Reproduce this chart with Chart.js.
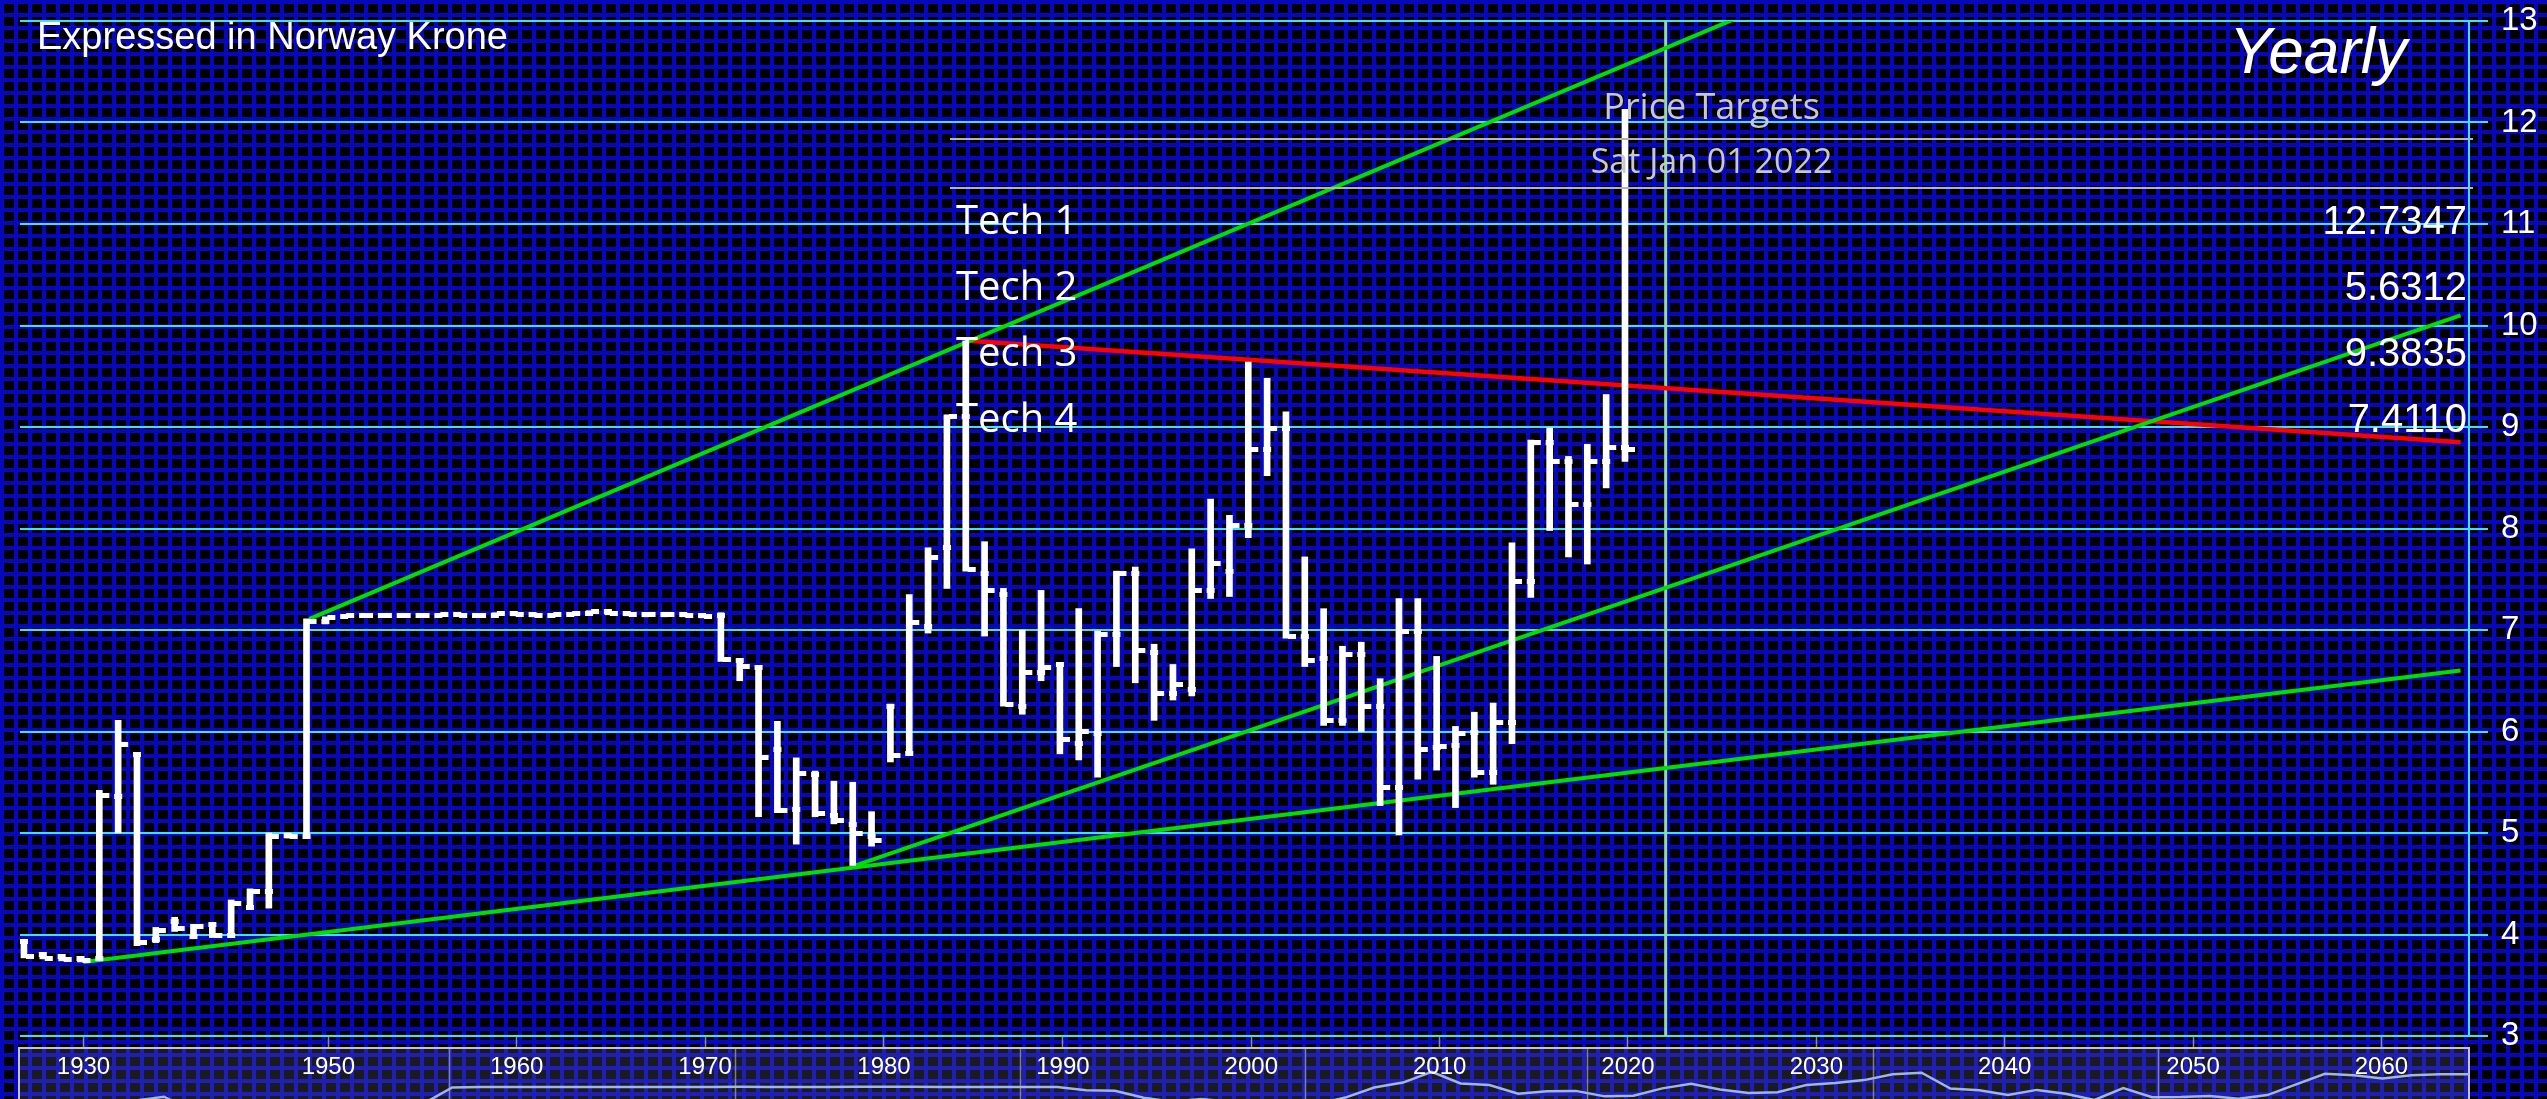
<!DOCTYPE html>
<html>
<head>
<meta charset="utf-8">
<title>Yearly</title>
<script src="https://cdn.jsdelivr.net/npm/chart.js@4.4.1/dist/chart.umd.min.js"></script>
<style>
  html, body { margin: 0; padding: 0; overflow: hidden; }
  body {
    width: 2547px;
    height: 1099px;
    background-color: #000;
    background-image:
      repeating-linear-gradient(90deg, #0707bc 0px, #0707bc 4px, transparent 4px, transparent 14px),
      repeating-linear-gradient(180deg, #0707bc 0px, #0707bc 4px, transparent 4px, transparent 13px);
  }
  canvas { display: block; }
</style>
</head>
<body>
<canvas id="chart" width="2547" height="1099"></canvas>
<script>
// yearly bars (ordinal axis: the war years and 1980 are missing in the feed)
const years = [
    1927, 1928, 1929, 1930, 1931, 1932, 1933, 1934, 1935, 1936, 1937, 1938, 1939,
    1947, 1948, 1949, 1950, 1951, 1952, 1953, 1954, 1955, 1956, 1957, 1958, 1959,
    1960, 1961, 1962, 1963, 1964, 1965, 1966, 1967, 1968, 1969, 1970, 1971, 1972,
    1973, 1974, 1975, 1976, 1977, 1978, 1979,
    1981, 1982, 1983, 1984, 1985, 1986, 1987, 1988, 1989, 1990, 1991, 1992, 1993,
    1994, 1995, 1996, 1997, 1998, 1999, 2000, 2001, 2002, 2003, 2004, 2005, 2006,
    2007, 2008, 2009, 2010, 2011, 2012, 2013, 2014, 2015, 2016, 2017, 2018, 2019, 2020
];
const opens = [
    3.93, 3.80, 3.78, 3.76, 3.76, 5.36, 5.77, 3.95, 4.13, 3.98, 4.10, 3.99, 4.27,
    4.42, 4.98, 4.97,
    7.08, 7.13, 7.14, 7.14, 7.14, 7.14, 7.14, 7.15, 7.14, 7.14, 7.16, 7.15, 7.14, 7.15, 7.16, 7.18, 7.16, 7.15, 7.15, 7.15, 7.14,
    7.14, 6.70, 6.63, 5.82, 5.23, 5.58, 5.17, 5.08, 4.97,
    6.25, 5.78, 7.03, 7.81, 9.10, 7.56, 7.35, 6.25, 6.58, 6.66,
    5.88, 5.98, 6.96, 7.56, 6.78, 6.37, 6.41, 7.39, 7.58, 8.03,
    8.78, 8.99, 6.94, 6.72, 6.11, 6.76, 6.25, 5.45, 6.99, 5.84,
    5.86, 5.99, 5.60, 6.09, 7.48, 8.85, 8.66, 8.24, 8.66, 8.80
];
const highs = [
    3.95, 3.81, 3.79, 3.77, 5.42, 6.11, 5.78, 4.07, 4.17, 4.10, 4.11, 4.34, 4.45,
    5.00, 5.00, 7.11,
    7.13, 7.15, 7.15, 7.15, 7.15, 7.15, 7.16, 7.16, 7.15, 7.17, 7.18, 7.16, 7.16, 7.17, 7.19, 7.19, 7.17, 7.16, 7.16, 7.16, 7.16,
    7.17, 6.72, 6.64, 6.10, 5.74, 5.61, 5.51, 5.50, 5.21,
    6.27, 7.35, 7.81, 9.12, 9.85, 7.87, 7.41, 7.00, 7.39, 6.68,
    7.21, 6.99, 7.58, 7.62, 6.86, 6.66, 7.80, 8.29, 8.13, 9.64,
    9.48, 9.15, 7.72, 7.21, 6.84, 6.88, 6.52, 7.31, 7.31, 6.74,
    6.05, 6.19, 6.28, 7.86, 8.87, 8.99, 8.71, 8.83, 9.32, 12.13
];
const lows = [
    3.77, 3.76, 3.74, 3.73, 3.74, 5.00, 3.89, 3.92, 4.03, 3.96, 3.97, 3.97, 4.25,
    4.26, 4.95, 4.95,
    7.06, 7.12, 7.13, 7.13, 7.13, 7.13, 7.13, 7.14, 7.13, 7.13, 7.14, 7.13, 7.13, 7.14, 7.15, 7.15, 7.14, 7.13, 7.13, 7.13, 7.12,
    6.69, 6.50, 5.16, 5.20, 4.89, 5.16, 5.09, 4.68, 4.87,
    5.70, 5.78, 6.97, 7.41, 7.58, 6.94, 6.25, 6.17, 6.50, 5.78,
    5.72, 5.55, 6.64, 6.48, 6.11, 6.31, 6.35, 7.31, 7.33, 7.91,
    8.52, 6.92, 6.64, 6.06, 6.06, 6.00, 5.27, 4.98, 5.53, 5.62,
    5.25, 5.55, 5.48, 5.88, 7.32, 7.98, 7.72, 7.65, 8.40, 8.66
];
const closes = [
    3.78, 3.76, 3.75, 3.74, 5.37, 5.87, 3.92, 4.04, 4.06, 4.08, 3.99, 4.31, 4.42,
    4.97, 4.97, 7.08,
    7.12, 7.14, 7.14, 7.14, 7.14, 7.14, 7.15, 7.14, 7.14, 7.16, 7.15, 7.14, 7.15, 7.16, 7.18, 7.16, 7.15, 7.15, 7.15, 7.14, 7.13,
    6.71, 6.64, 5.74, 5.22, 5.59, 5.19, 5.12, 5.00, 4.93,
    5.76, 7.07, 7.71, 9.10, 7.60, 7.39, 6.27, 6.58, 6.63, 5.92,
    6.00, 6.96, 7.56, 6.80, 6.37, 6.46, 7.39, 7.66, 8.03, 8.78,
    8.99, 6.94, 6.70, 6.11, 6.76, 6.25, 5.45, 6.99, 5.82, 5.85,
    5.98, 5.60, 6.09, 7.48, 8.85, 8.66, 8.24, 8.66, 8.80, 8.78
];

const tickYears = [1930, 1950, 1960, 1970, 1980, 1990, 2000, 2010, 2020, 2030, 2040, 2050, 2060];
const priceMin = 3;
const priceMax = 13;
const viewYears = [1926.63, 2064.65];

// trend lines, [year, price] anchors
const upperTrend = [[1949, 7.11], [2064.2, 16.03]];
const lowerTrend = [[1930, 3.73], [2064.2, 6.60]];
const middleTrend = [[1978, 4.68], [2064.2, 10.10]];
const redTrend = [[1985, 9.85], [2064.2, 8.85]];

const targetYear = 2022;
const targetDate = "Sat Jan 01 2022";
const techNames = ["Tech 1", "Tech 2", "Tech 3", "Tech 4"];
const techValues = [12.7347, 5.6312, 9.3835, 7.4110];

// navigator grid, in navigator bar units
const navGrid = [14.9, 24.8, 34.7, 44.6, 54.4, 64.3, 74.2];

const cyan = "#3de2ea";

// ordinal position: bars sit one unit apart, years in between are interpolated
function yearToIndex(y) {
    const n = years.length;
    if (y <= years[0]) return y - years[0];
    if (y >= years[n - 1]) return n - 1 + (y - years[n - 1]);
    for (let i = 0; i < n - 1; i++) {
        if (y >= years[i] && y < years[i + 1]) {
            return i + (y - years[i]) / (years[i + 1] - years[i]);
        }
    }
    return n - 1;
}

function trendData(line) {
    return line.map(p => ({ x: yearToIndex(p[0]), y: p[1] }));
}

function tickImage(side) {
    const c = document.createElement("canvas");
    c.width = 20;
    c.height = 5;
    const g = c.getContext("2d");
    g.fillStyle = "#ffffff";
    if (side === "open") g.fillRect(3, 0, 8, 5);
    else g.fillRect(9, 0, 8, 5);
    return c;
}

const navigatorBack = {
    id: "navigatorBack",
    beforeDraw(chart) {
        const { ctx, chartArea: a } = chart;
        const top = a.bottom + 12;
        const bottom = chart.height + 2;
        ctx.save();
        ctx.fillStyle = "rgba(120,125,150,0.22)";
        ctx.fillRect(a.left - 1, top, a.right - a.left + 1, bottom - top);
        const xs = chart.scales.xNav;
        ctx.strokeStyle = "rgba(150,150,160,0.8)";
        ctx.lineWidth = 1.5;
        navGrid.forEach(v => {
            const px = Math.round(xs.getPixelForValue(v)) + 0.5;
            ctx.beginPath();
            ctx.moveTo(px, top);
            ctx.lineTo(px, bottom);
            ctx.stroke();
        });
        ctx.strokeStyle = "#c4c4c4";
        ctx.lineWidth = 2;
        ctx.beginPath();
        ctx.moveTo(a.left - 1, bottom);
        ctx.lineTo(a.left - 1, top);
        ctx.lineTo(a.right, top);
        ctx.lineTo(a.right, bottom);
        ctx.stroke();
        ctx.restore();
    }
};

const labels = {
    id: "labels",
    afterDraw(chart) {
        const { ctx, chartArea: a } = chart;
        ctx.save();
        ctx.fillStyle = "#ffffff";
        ctx.textBaseline = "alphabetic";

        ctx.font = '38px "Liberation Sans", Arial, sans-serif';
        ctx.textAlign = "left";
        ctx.fillText("Expressed in Norway Krone", a.left + 17, a.top + 28);

        ctx.font = 'italic 64px "Liberation Sans", Arial, sans-serif';
        ctx.textAlign = "center";
        ctx.fillText("Yearly", a.right - 151, a.top + 52);

        const left = a.left + 930;
        const right = a.right + 4;
        const mid = (left + right) / 2;

        ctx.strokeStyle = "#b4b4b4";
        ctx.lineWidth = 2;
        [118, 167].forEach(dy => {
            ctx.beginPath();
            ctx.moveTo(left, a.top + dy);
            ctx.lineTo(right, a.top + dy);
            ctx.stroke();
        });

        ctx.fillStyle = "#c8c8c8";
        ctx.font = '36px "Open Sans", sans-serif';
        ctx.textAlign = "center";
        ctx.fillText("Price Targets", mid, a.top + 98);
        ctx.font = '34px "Open Sans", sans-serif';
        ctx.fillText(targetDate, mid, a.top + 152);

        ctx.fillStyle = "#ffffff";
        techNames.forEach((name, i) => {
            const y = a.top + 213 + i * 66;
            ctx.font = '40px "Open Sans", sans-serif';
            ctx.textAlign = "left";
            ctx.fillText(name, left + 6, y);
            ctx.font = '40px "Liberation Sans", Arial, sans-serif';
            ctx.textAlign = "right";
            ctx.fillText(techValues[i].toFixed(4), a.right - 2, y);
        });
        ctx.restore();
    }
};

Chart.defaults.font.family = '"Liberation Sans", Arial, sans-serif';

new Chart(document.getElementById("chart"), {
    type: "scatter",
    data: {
        datasets: [
            {
                type: "scatter",
                data: years.map((y, i) => ({ x: i, y: opens[i] })),
                pointStyle: tickImage("open"),
                pointRadius: 6,
                order: 0
            },
            {
                type: "scatter",
                data: years.map((y, i) => ({ x: i, y: closes[i] })),
                pointStyle: tickImage("close"),
                pointRadius: 6,
                order: 0
            },
            {
                type: "bar",
                data: years.map((y, i) => ({ x: i, y: [lows[i], highs[i]] })),
                backgroundColor: "#ffffff",
                borderWidth: 0,
                borderSkipped: false,
                barThickness: 6,
                order: 1
            },
            {
                type: "line",
                data: trendData(upperTrend),
                borderColor: "#00e000",
                borderWidth: 4,
                pointRadius: 0,
                order: 2
            },
            {
                type: "line",
                data: trendData(lowerTrend),
                borderColor: "#00e000",
                borderWidth: 4,
                pointRadius: 0,
                order: 2
            },
            {
                type: "line",
                data: trendData(middleTrend),
                borderColor: "#00e000",
                borderWidth: 4,
                pointRadius: 0,
                order: 2
            },
            {
                type: "line",
                data: trendData(redTrend),
                borderColor: "#ff0000",
                borderWidth: 4.5,
                pointRadius: 0,
                order: 2
            },
            {
                type: "line",
                data: [
                    { x: yearToIndex(targetYear), y: priceMin },
                    { x: yearToIndex(targetYear), y: priceMax }
                ],
                borderColor: "#96dc96",
                borderWidth: 3,
                pointRadius: 0,
                order: 3
            },
            {
                type: "line",
                xAxisID: "xNav",
                yAxisID: "yNav",
                data: years.map((y, i) => ({ x: i, y: closes[i] })),
                borderColor: "#9fb5e4",
                borderWidth: 2.5,
                pointRadius: 0,
                clip: false,
                order: 4
            }
        ]
    },
    options: {
        responsive: false,
        animation: false,
        events: [],
        layout: { padding: { left: 20, top: 21, right: 0, bottom: 0 } },
        plugins: {
            legend: { display: false },
            tooltip: { enabled: false }
        },
        scales: {
            x: {
                type: "linear",
                position: "bottom",
                offset: false,
                min: yearToIndex(viewYears[0]),
                max: yearToIndex(viewYears[1]),
                afterBuildTicks(scale) {
                    scale.ticks = tickYears.map(y => ({ value: yearToIndex(y) }));
                },
                afterFit(scale) {
                    scale.height = 63;
                    scale.paddingLeft = 0;
                    scale.paddingRight = 0;
                },
                grid: {
                    offset: false,
                    drawOnChartArea: false,
                    drawTicks: true,
                    tickLength: 11,
                    tickColor: "#8c8c8c",
                    tickWidth: 1.5
                },
                border: { display: false },
                ticks: {
                    z: 1,
                    color: "#ffffff",
                    font: { size: 24 },
                    padding: 6,
                    maxRotation: 0,
                    autoSkip: false,
                    callback: (value, index) => String(tickYears[index])
                }
            },
            y: {
                type: "linear",
                position: "right",
                min: priceMin,
                max: priceMax,
                afterFit(scale) {
                    scale.width = 78;
                    scale.paddingTop = 0;
                    scale.paddingBottom = 0;
                },
                grid: {
                    color: cyan,
                    lineWidth: 2,
                    drawTicks: true,
                    tickLength: 19,
                    tickColor: cyan
                },
                border: { display: true, color: cyan, width: 2 },
                ticks: {
                    stepSize: 1,
                    color: "#ffffff",
                    font: { size: 33 },
                    padding: 13
                }
            },
            xNav: {
                type: "linear",
                axis: "x",
                display: false,
                min: 0,
                max: years.length - 1
            },
            yNav: {
                type: "linear",
                axis: "y",
                display: false,
                min: 13.76,
                max: 145.6
            }
        }
    },
    plugins: [navigatorBack, labels]
});
</script>
</body>
</html>
